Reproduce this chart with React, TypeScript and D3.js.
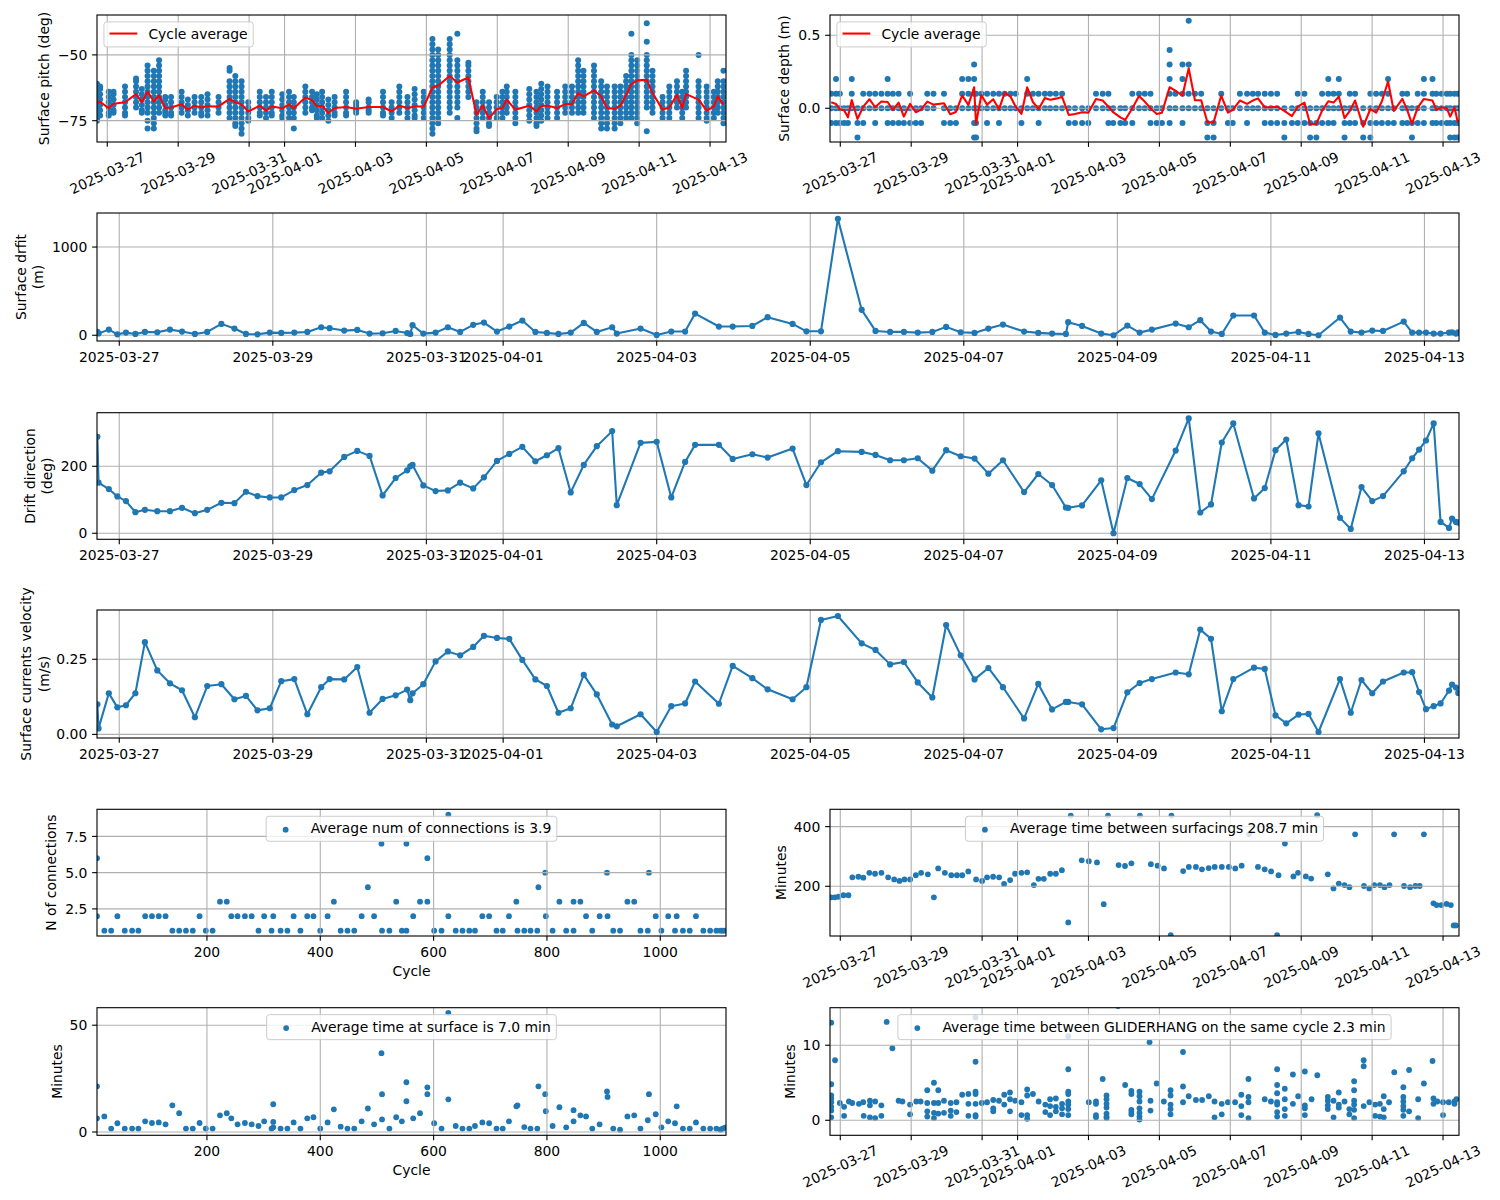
import React from "react";
import * as d3 from "d3";

// ---------- time helpers (days since 2025-03-27 00:00 UTC) ----------
const BASE_MS = Date.UTC(2025, 2, 27);
const toDate = (t: number) => new Date(BASE_MS + t * 86400000);
const TIME_DOMAIN = [-0.29, 17.45];
const DATE_TICKS = ["2025-03-27", "2025-03-29", "2025-03-31", "2025-04-01", "2025-04-03", "2025-04-05", "2025-04-07", "2025-04-09", "2025-04-11", "2025-04-13"];
const CYCLE_DOMAIN = [6, 1116];
const CYCLE_TICKS = [200, 400, 600, 800, 1000];

// ---------- surfacing-level series (drift / direction / velocity) ----------
const surfT = [-0.285, -0.27, -0.136, -0.025, 0.087, 0.21, 0.334, 0.495, 0.66, 0.817,
  0.985, 1.146, 1.33, 1.5, 1.65, 1.8, 1.96, 2.11, 2.28, 2.45,
  2.63, 2.74, 2.93, 3.1, 3.26, 3.43, 3.6, 3.75, 3.79, 3.82,
  3.96, 4.12, 4.28, 4.44, 4.61, 4.75, 4.92, 5.08, 5.25, 5.42,
  5.57, 5.72, 5.88, 6.05, 6.22, 6.42, 6.48, 6.79, 7.0, 7.19,
  7.37, 7.5, 7.81, 7.99, 8.246, 8.445, 8.77, 8.95, 9.14, 9.36,
  9.67, 9.85, 10.04, 10.22, 10.4, 10.59, 10.77, 10.96, 11.14, 11.32,
  11.51, 11.785, 11.97, 12.15, 12.33, 12.36, 12.54, 12.79, 12.95, 13.13,
  13.29, 13.45, 13.76, 13.93, 14.08, 14.22, 14.36, 14.51, 14.78, 14.92,
  15.06, 15.2, 15.36, 15.49, 15.62, 15.9, 16.04, 16.18, 16.32, 16.46,
  16.73, 16.84, 16.93, 17.02, 17.12, 17.21, 17.32, 17.36, 17.41, 17.44];
const driftM = [40, 20, 64, 11, 30, 15, 38, 34, 64, 42,
  15, 38, 129, 76, 15, 11, 30, 27, 30, 38,
  91, 80, 53, 61, 19, 23, 49, 25, 15, 114,
  19, 30, 91, 38, 118, 144, 42, 99, 167, 38,
  27, 15, 30, 140, 38, 91, 19, 76, 4, 42,
  42, 246, 99, 99, 106, 205, 129, 45, 45, 1320,
  288, 49, 38, 38, 30, 38, 95, 34, 27, 76,
  121, 42, 27, 19, 15, 148, 106, 19, 0, 110,
  30, 64, 133, 91, 171, 42, 15, 224, 224, 30,
  4, 19, 38, 15, 0, 201, 42, 30, 53, 49,
  155, 30, 30, 30, 19, 19, 30, 34, 19, 34];
const dirDeg = [288, 151, 132, 110, 96, 63, 70, 66, 66, 76,
  60, 70, 91, 90, 124, 111, 107, 107, 129, 144,
  181, 185, 228, 246, 231, 113, 165, 188, 200, 204,
  143, 126, 128, 151, 134, 167, 216, 237, 258, 215,
  233, 254, 122, 204, 260, 305, 84, 270, 273, 107,
  213, 264, 264, 222, 236, 226, 253, 144, 212, 245,
  243, 234, 218, 218, 224, 187, 248, 230, 223, 178,
  218, 123, 177, 144, 77, 76, 83, 158, 0, 165,
  147, 102, 247, 343, 62, 86, 271, 328, 104, 135,
  248, 280, 84, 80, 298, 46, 13, 138, 96, 111,
  185, 224, 250, 277, 328, 34, 16, 44, 34, 32];
const velMS = [0.1, 0.02, 0.137, 0.09, 0.097, 0.137, 0.307, 0.213, 0.17, 0.147,
  0.057, 0.161, 0.167, 0.117, 0.128, 0.08, 0.087, 0.177, 0.184, 0.067,
  0.157, 0.184, 0.183, 0.224, 0.072, 0.118, 0.13, 0.149, 0.114, 0.137,
  0.167, 0.243, 0.276, 0.263, 0.291, 0.328, 0.321, 0.318, 0.248, 0.183,
  0.161, 0.072, 0.087, 0.198, 0.133, 0.033, 0.027, 0.067, 0.008, 0.094,
  0.103, 0.176, 0.102, 0.228, 0.187, 0.15, 0.117, 0.157, 0.381, 0.394,
  0.303, 0.281, 0.233, 0.241, 0.173, 0.123, 0.364, 0.263, 0.183, 0.221,
  0.157, 0.053, 0.168, 0.083, 0.108, 0.108, 0.1, 0.017, 0.021, 0.14,
  0.171, 0.184, 0.206, 0.2, 0.349, 0.318, 0.077, 0.184, 0.222, 0.218,
  0.063, 0.037, 0.066, 0.068, 0.008, 0.184, 0.072, 0.181, 0.137, 0.176,
  0.206, 0.207, 0.141, 0.084, 0.094, 0.103, 0.146, 0.166, 0.156, 0.138];

// ---------- surface pitch: per-cycle readings + cycle average ----------
const pitchT = [-0.29, -0.203, 0.041, 0.176, 0.5, 0.811, 0.974, 1.136, 1.312, 1.461,
  1.636, 1.799, 2.096, 2.272, 2.461, 2.651, 2.827, 3.138, 3.449, 3.611,
  3.787, 3.976, 4.301, 4.477, 4.639, 4.936, 5.126, 5.261, 5.586, 5.775,
  5.91, 6.059, 6.235, 6.411, 6.735, 7.019, 7.371, 7.777, 8.02, 8.237,
  8.466, 8.669, 8.926, 9.17, 9.332, 9.657, 9.873, 10.184, 10.414, 10.59,
  10.766, 10.982, 11.144, 11.266, 11.509, 11.902, 12.105, 12.24, 12.416, 12.686,
  12.916, 13.105, 13.281, 13.43, 13.727, 13.93, 14.093, 14.309, 14.471, 14.634,
  14.782, 14.945, 15.215, 15.377, 15.661, 15.851, 16.067, 16.216, 16.324, 16.676,
  16.905, 17.108, 17.217, 17.379];
const pitchAvg = [-68.3, -67.8, -70.2, -68.6, -68.0, -64.9, -68.0, -63.9, -67.7, -65.4,
  -70.2, -70.0, -68.8, -70.8, -69.3, -70.0, -69.5, -69.6, -66.7, -68.0,
  -68.8, -71.5, -69.3, -71.2, -69.6, -70.3, -68.8, -70.3, -66.2, -67.2,
  -69.6, -69.3, -72.1, -70.2, -69.8, -70.5, -69.8, -69.8, -71.5, -69.3,
  -70.2, -69.6, -69.6, -62.4, -61.7, -58.0, -60.5, -58.6, -72.7, -69.3,
  -74.1, -70.6, -70.2, -67.0, -70.8, -69.3, -71.5, -69.3, -69.3, -70.2,
  -68.7, -68.7, -64.5, -65.8, -63.5, -65.8, -70.2, -70.5, -69.3, -65.2,
  -61.1, -59.7, -59.5, -64.5, -70.8, -70.0, -65.2, -70.2, -64.9, -67.0,
  -71.2, -69.6, -65.8, -68.9];
const pitchReadings = [
  [-61, -62, -63, -64, -66, -68, -70, -72, -74, -75],
  [-62, -63, -65, -67, -69, -71, -73],
  [-64, -66, -68, -70, -72, -73],
  [-64, -65, -67, -69, -71, -72],
  [-62, -64, -66, -68, -70, -72, -73],
  [-59, -60, -62, -64, -66, -68, -70],
  [-63, -65, -67, -69, -71, -72],
  [-54, -56, -58, -60, -62, -64, -66, -68, -70, -72, -75, -78],
  [-56, -58, -60, -62, -64, -66, -68, -70, -72, -74, -76, -78],
  [-52, -54, -56, -58, -60, -62, -64, -66, -68, -70, -72],
  [-66, -67, -69, -71, -72, -73],
  [-66, -68, -70, -72, -73],
  [-64, -66, -68, -70, -72],
  [-67, -69, -71, -73],
  [-66, -68, -70, -72],
  [-66, -68, -70, -72, -73],
  [-65, -67, -69, -71, -73],
  [-66, -68, -70, -72],
  [-55, -56, -60, -62, -64, -66, -68, -70, -72, -74],
  [-58, -60, -62, -64, -66, -68, -70, -72, -74, -76, -77],
  [-60, -62, -64, -66, -68, -70, -72, -74, -76, -78, -80],
  [-68, -70, -72, -74, -75],
  [-64, -66, -68, -70, -72, -73],
  [-66, -68, -70, -72, -74],
  [-64, -66, -68, -70, -72, -73],
  [-65, -67, -69, -71, -73, -74],
  [-64, -66, -68, -70, -72, -74],
  [-66, -68, -70, -72, -74, -78],
  [-62, -64, -66, -68, -70, -72],
  [-64, -66, -68, -70, -71],
  [-65, -67, -69, -71, -73, -74],
  [-64, -66, -68, -70, -72, -74],
  [-67, -69, -71, -73, -75],
  [-66, -68, -70, -72, -73],
  [-64, -66, -68, -70, -72, -73],
  [-68, -69, -70, -71, -72],
  [-67, -68, -70, -71, -72],
  [-64, -66, -68, -70, -72, -73],
  [-68, -70, -72, -74],
  [-62, -64, -66, -68, -70, -72],
  [-66, -68, -70, -72, -74],
  [-63, -65, -67, -69, -71, -73, -74],
  [-64, -66, -68, -70, -72, -74],
  [-44, -46, -48, -50, -52, -54, -56, -58, -60, -62, -64, -66, -68, -70, -72, -74, -76, -78, -80],
  [-48, -50, -52, -54, -56, -58, -60, -62, -64, -66, -68, -70, -72, -74, -76],
  [-44, -46, -48, -50, -52, -54, -56, -58, -60, -62, -64, -66, -68, -70, -72],
  [-42, -52, -54, -56, -58, -60, -62, -64, -66, -68, -70, -74],
  [-53, -54, -56, -58, -60, -62, -64, -66],
  [-68, -70, -72, -74, -76, -78, -79],
  [-64, -66, -68, -70, -72, -74],
  [-68, -70, -72, -74, -76, -77],
  [-66, -68, -70, -72, -74],
  [-64, -66, -68, -70, -72, -74],
  [-62, -64, -66, -68, -70, -72],
  [-64, -66, -68, -70, -72, -74, -76],
  [-63, -65, -67, -69, -71, -73, -75],
  [-64, -66, -68, -70, -72, -74, -76, -77],
  [-61, -63, -65, -67, -69, -71, -73, -75],
  [-62, -64, -66, -68, -70, -72, -74],
  [-64, -66, -68, -70, -72, -74],
  [-62, -64, -66, -68, -70, -72],
  [-62, -64, -66, -68, -70, -72],
  [-52, -54, -56, -58, -60, -62, -64, -66, -68, -70, -72],
  [-56, -58, -60, -62, -64, -66, -68, -70, -72],
  [-54, -56, -58, -60, -62, -64, -66, -68, -70, -72, -74],
  [-60, -62, -64, -66, -68, -70, -72, -74, -76, -78],
  [-62, -64, -66, -68, -70, -72, -74, -76, -78],
  [-62, -64, -66, -68, -70, -72, -74, -76, -78],
  [-62, -64, -66, -68, -70, -72, -74, -76],
  [-58, -60, -62, -64, -66, -68, -70, -72, -74],
  [-42, -50, -52, -54, -56, -58, -60, -62, -64, -66, -68, -70, -72, -74],
  [-52, -54, -56, -58, -60, -62, -64, -66, -68, -70, -72, -74, -76],
  [-38, -45, -50, -52, -54, -56, -58, -60, -62, -64, -66, -68, -70, -79],
  [-56, -58, -60, -62, -64, -66, -68, -70, -72],
  [-66, -68, -70, -72, -74],
  [-62, -64, -66, -68, -70, -72, -74],
  [-60, -62, -64, -66, -68, -70],
  [-64, -66, -68, -70, -72, -74],
  [-56, -58, -60, -62, -64, -66, -68, -70],
  [-50, -60, -62, -64, -66, -68, -70, -72, -74],
  [-62, -64, -66, -68, -70, -72, -74, -75],
  [-64, -66, -68, -70, -72, -74],
  [-60, -62, -64, -66, -68, -70, -72],
  [-56, -60, -62, -64, -66, -68, -70, -72, -74, -76]];

// ---------- surface depth: per-cycle readings + cycle average ----------
const depthT = [-0.256, -0.121, -0.013, 0.108, 0.216, 0.324, 0.485, 0.647, 0.822, 0.984,
  1.159, 1.335, 1.483, 1.645, 1.793, 1.968, 2.13, 2.278, 2.453, 2.629,
  2.925, 3.101, 3.262, 3.438, 3.613, 3.775, 3.829, 3.977, 4.139, 4.314,
  4.476, 4.637, 4.799, 4.947, 5.109, 5.271, 5.433, 5.594, 5.77, 5.918,
  6.08, 6.255, 6.444, 6.619, 6.821, 6.996, 7.212, 7.401, 7.563, 7.697,
  7.9, 8.034, 8.237, 8.425, 8.587, 8.749, 8.924, 9.072, 9.288, 9.45,
  9.652, 9.827, 10.003, 10.178, 10.353, 10.528, 10.744, 10.933, 11.068, 11.27,
  11.472, 11.634, 11.782, 11.971, 12.146, 12.321, 12.524, 12.739, 12.901, 13.09,
  13.252, 13.427, 13.589, 13.764, 13.912, 14.06, 14.222, 14.37, 14.519, 14.748,
  14.95, 15.112, 15.274, 15.449, 15.611, 15.853, 15.988, 16.123, 16.285, 16.46,
  16.703, 16.811, 16.959, 17.107, 17.201, 17.323, 17.417];
const depthAvg = [0.041, 0.03, -0.007, -0.014, -0.062, 0.057, -0.073, 0.011, 0.062, 0.007,
  0.046, 0.043, -0.011, 0.039, -0.057, 0.03, -0.027, -0.009, 0.046, 0.025,
  0.034, -0.041, -0.025, 0.087, 0.023, 0.144, -0.107, 0.091, 0.025, 0.062,
  -0.007, 0.107, 0.08, 0.011, -0.039, 0.144, 0.043, -0.005, 0.071, 0.059,
  0.066, 0.078, -0.046, -0.039, -0.027, -0.03, 0.064, 0.053, 0.011, -0.027,
  -0.062, -0.08, 0, 0.084, 0.046, 0, -0.039, -0.03, 0.144, 0.121,
  0.087, 0.274, 0.055, 0.055, -0.094, -0.098, 0.087, -0.03, -0.011, 0.053,
  0.03, 0.053, 0.068, 0.007, 0.007, 0.011, -0.018, -0.053, 0.011, 0.039,
  -0.11, -0.107, -0.016, 0.048, 0.039, 0.08, -0.068, -0.018, 0.053, -0.126,
  -0.005, -0.03, 0.046, 0.183, -0.018, 0.064, -0.011, -0.107, 0.005, 0.064,
  0.053, -0.011, 0.007, 0, -0.057, 0.007, -0.098];
const depthReadings = [
  [0.1, 0, -0.1], [0.2, 0.1, 0, -0.1], [0.1, 0, -0.1], [0, -0.1], [0, -0.1],
  [0.2, 0.1, 0], [0, -0.1, -0.2], [0.1, 0, -0.1], [0.1, 0], [0.1, 0, -0.1],
  [0.1, 0], [0.2, 0.1, 0, -0.1], [0.1, 0, -0.1], [0.1, 0, -0.1], [0, -0.1],
  [0.1, 0, -0.1], [0, -0.1], [0, -0.1], [0.1, 0], [0.1, 0],
  [0.1, 0, -0.1], [0, -0.1], [0, -0.1], [0.2, 0.1, 0], [0.2, 0.1, 0],
  [0.3, 0.2, 0.1, 0, -0.1, -0.2], [0.1, 0, -0.1, -0.2], [0.1, 0], [0.1, 0, -0.1], [0.1, 0],
  [0.1, 0, -0.1], [0.1, 0], [0.1, 0], [0.1, 0], [0, -0.1],
  [0.2, 0.1, 0], [0.1, 0], [0.1, 0, -0.1], [0.1, 0], [0.1, 0],
  [0.1, 0], [0.1, 0], [0, -0.1], [0, -0.1], [0, -0.1],
  [0, -0.1], [0.1, 0], [0.1, 0], [0.1, 0, -0.1], [0, -0.1],
  [0, -0.1], [0, -0.1], [0.1, 0, -0.1], [0.1, 0], [0.1, 0],
  [0.1, 0, -0.1], [0, -0.1], [0, -0.1], [0.4, 0.3, 0.2, 0.1, 0, -0.1], [0.1, 0],
  [0.3, 0.2, 0.1, 0, -0.1], [0.6, 0.3, 0.1, 0], [0.1, 0], [0.1, 0], [0, -0.1, -0.2],
  [0, -0.1, -0.2], [0.1, 0], [0, -0.1], [0, -0.1], [0.1, 0],
  [0.1, 0, -0.1], [0.1, 0], [0.1, 0], [0.1, 0, -0.1], [0.1, 0, -0.1],
  [0.1, 0, -0.1], [0, -0.1, -0.2], [0, -0.1], [0.1, 0, -0.1], [0.1, 0, -0.1],
  [0, -0.1, -0.2], [0, -0.1, -0.2], [0.1, 0, -0.1], [0.2, 0.1, 0, -0.1], [0.1, 0, -0.1],
  [0.2, 0.1, 0], [0, -0.1, -0.2], [0.1, 0, -0.1], [0.1, 0, -0.1], [0, -0.1, -0.2],
  [0.1, 0, -0.1, -0.2], [0.1, 0, -0.1], [0.1, 0, -0.1], [0.2, 0.1, 0, -0.1], [0, -0.1],
  [0.1, 0, -0.1], [0.1, 0, -0.1], [0, -0.1, -0.2], [0.1, 0, -0.1], [0.2, 0.1, 0, -0.1],
  [0.2, 0.1, 0, -0.1], [0.1, 0, -0.1], [0.1, 0, -0.1], [0.1, 0, -0.1], [0.1, 0, -0.1, -0.2],
  [0.1, 0, -0.1, -0.2], [0.1, 0, -0.1, -0.2]];

// ---------- per-cycle counts (x = cycle number) ----------
const connPts: [number, number][] = [[6, 6], [6, 2], [19, 1], [31, 1], [42, 2], [55, 1], [68, 1], [79, 1], [91, 2], [103, 2],
  [115, 2], [127, 2], [139, 1], [151, 1], [163, 1], [175, 1], [187, 2], [198, 1], [210, 1], [223, 3],
  [235, 3], [243, 2], [254, 2], [267, 2], [279, 2], [291, 1], [301, 2], [314, 1], [317, 2], [330, 1],
  [342, 1], [353, 2], [365, 1], [377, 2], [388, 2], [400, 1], [413, 2], [424, 3], [436, 1], [448, 1],
  [460, 1], [473, 2], [484, 4], [495, 2], [508, 7], [509, 1], [522, 1], [534, 3], [544, 1], [552, 1],
  [552, 7], [564, 2], [576, 3], [589, 6], [589, 3], [601, 1], [614, 1], [626, 9], [626, 2], [639, 1],
  [651, 1], [663, 1], [673, 1], [686, 2], [698, 2], [711, 1], [722, 1], [733, 2], [746, 3], [748, 1],
  [760, 1], [771, 1], [783, 1], [785, 4], [797, 5], [798, 2], [810, 1], [822, 3], [834, 1], [847, 3],
  [847, 1], [859, 3], [869, 2], [880, 1], [893, 2], [906, 5], [907, 2], [917, 1], [929, 1], [942, 3],
  [954, 3], [965, 1], [978, 1], [980, 5], [992, 2], [1002, 1], [1014, 2], [1026, 1], [1029, 2], [1040, 1],
  [1052, 1], [1063, 2], [1076, 1], [1088, 1], [1099, 1], [1106, 1], [1110, 1], [1114, 1]];
const atSurfPts: [number, number][] = [[6, 21.4], [6, 6.4], [19, 7.3], [31, 1.6], [42, 4.1], [55, 1.6], [68, 1.6], [79, 1.6], [91, 5], [103, 4.2],
  [115, 4.5], [127, 3.6], [139, 12.5], [151, 8.8], [163, 1.6], [175, 1.6], [187, 4.2], [198, 1.6], [210, 1.6], [223, 7.8],
  [235, 8.8], [243, 6.4], [254, 3.6], [267, 4.2], [279, 3.6], [291, 2.8], [301, 5], [314, 1.6], [317, 4.7], [317, 13],
  [317, 2.2], [330, 1.6], [342, 1.6], [353, 4.5], [365, 1.6], [377, 6.4], [388, 6.9], [400, 1.6], [413, 4.5], [424, 10.6],
  [436, 2.5], [448, 1.6], [460, 1.6], [473, 5], [484, 11], [495, 3.6], [508, 36.9], [509, 17.7], [509, 5.9], [522, 1.6],
  [534, 6.9], [544, 5], [552, 23.3], [552, 14.4], [564, 6.4], [576, 8.8], [589, 20.9], [589, 17.7], [601, 4.1], [614, 1.6],
  [626, 55.8], [626, 15.3], [639, 2.8], [651, 1.6], [663, 1.6], [673, 2.8], [686, 4.5], [698, 4.1], [711, 1.6], [722, 1.6],
  [733, 5], [746, 12], [748, 12.5], [760, 2.3], [771, 1.6], [783, 1.6], [785, 21.4], [797, 17.7], [798, 9.7], [810, 2.8],
  [822, 11.6], [834, 2.2], [847, 10.2], [847, 5], [859, 7.8], [869, 7.3], [880, 1.6], [893, 3.6], [906, 19], [907, 16.4],
  [917, 1.6], [929, 1.1], [942, 7.3], [954, 7.8], [965, 1.6], [978, 5.5], [980, 17.7], [992, 8.3], [1002, 2.2], [1014, 5],
  [1026, 4.1], [1029, 12], [1040, 1.6], [1052, 1.6], [1063, 4.5], [1076, 1.6], [1088, 1.6], [1099, 1.6], [1106, 1.1], [1110, 1.6],
  [1114, 2]];

// ---------- time between surfacings (min) ----------
const gapPts: [number, number][] = [[-0.256, 163], [-0.15, 163], [-0.05, 165], [0.09, 170], [0.23, 170], [0.34, 230], [0.51, 232], [0.65, 229], [0.82, 245], [0.98, 242],
  [1.16, 245], [1.35, 230], [1.52, 223], [1.67, 218], [1.81, 223], [1.97, 223], [2.13, 237], [2.28, 245], [2.47, 240], [2.64, 163],
  [2.76, 260], [2.95, 245], [3.13, 237], [3.29, 237], [3.44, 237], [3.61, 250], [3.83, 223], [4.0, 218], [4.14, 230], [4.31, 232],
  [4.48, 230], [4.62, 208], [4.79, 221], [4.93, 242], [5.11, 245], [5.27, 247], [5.46, 204], [5.59, 225], [5.74, 225], [5.92, 242],
  [6.08, 242], [6.25, 254], [6.43, 79], [6.5, 437], [6.81, 287], [7.01, 284], [7.24, 280], [7.43, 140], [7.55, 437], [7.85, 271],
  [8.03, 268], [8.21, 277], [8.45, 437], [8.76, 274], [8.95, 269], [9.13, 260], [9.32, 36], [9.34, 437], [9.67, 251], [9.83, 265],
  [10.03, 265], [10.2, 257], [10.39, 261], [10.56, 265], [10.76, 265], [10.96, 265], [11.14, 260], [11.32, 269], [11.53, 374], [11.78, 265],
  [11.97, 257], [12.15, 250], [12.32, 36], [12.36, 237], [12.54, 343], [12.78, 233], [12.91, 245], [13.13, 233], [13.28, 226], [13.45, 438],
  [13.75, 240], [13.91, 193], [14.06, 209], [14.22, 204], [14.36, 197], [14.52, 374], [14.77, 201], [14.92, 193], [15.06, 204], [15.22, 204],
  [15.35, 197], [15.49, 204], [15.62, 374], [15.9, 201], [16.07, 197], [16.22, 201], [16.34, 201], [16.46, 374], [16.73, 143], [16.82, 137],
  [16.95, 137], [17.1, 141], [17.22, 137], [17.3, 69], [17.36, 69]];

// ---------- time between GLIDERHANG on the same cycle (min) ----------
const hangCols: [number, number[]][] = [
  [-0.256, [15.5, 13.0, 4.8, 3.3, 2.9, 2.4, 1.8, 1.3, 0.4]], [-0.148, [8.0]], [-0.013, [2.3]], [0.108, [1.8, 0.6]], [0.243, [2.5]],
  [0.337, [2.3]], [0.526, [2.2]], [0.647, [2.4]], [0.66, [0.6]], [0.836, [2.6, 2.0, 0.4]],
  [0.984, [2.5, 0.3]], [1.159, [2.0, 0.6]], [1.308, [13.1]], [1.469, [9.6]], [1.645, [2.6]],
  [1.752, [2.5]], [1.968, [2.1, 0.8]], [2.143, [2.5]], [2.265, [2.5]], [2.453, [4.0, 2.3, 1.2, 0.5]],
  [2.642, [5.0, 2.3, 1.0, 0.3]], [2.764, [4.0, 2.3, 0.9]], [2.925, [2.6, 1.0]], [3.114, [2.3, 1.3, 0.6]], [3.276, [2.4, 1.1]],
  [3.438, [3.4]], [3.613, [3.5, 2.2, 0.6]], [3.815, [15.5, 13.7, 7.8, 3.8, 3.5, 2.2, 0.7, 0.5]], [3.99, [2.3]], [4.139, [2.4]],
  [4.314, [2.7, 1.6, 1.2]], [4.476, [2.6]], [4.624, [3.4, 2.1]], [4.786, [3.7, 2.8, 1.2]], [4.934, [2.6]],
  [5.109, [2.4, 0.7]], [5.271, [4.1, 3.3, 0.7, 0.2]], [5.433, [3.5]], [5.594, [2.5]], [5.783, [2.1, 1.1]],
  [5.918, [2.8, 1.9, 0.7]], [6.08, [2.9, 1.8, 1.2]], [6.255, [2.2, 1.6, 0.8]], [6.43, [11.2, 6.8, 3.8, 3.5, 2.5, 2.1, 1.5, 0.7]], [7.01, [2.4]],
  [7.212, [2.5, 2.2, 0.7, 0.4]], [7.401, [5.5]], [7.509, [3.3, 2.8, 2.2, 1.7, 0.9, 0.5, 0.3]], [7.832, [15.2]], [8.034, [4.7]],
  [8.21, [3.9, 3.5, 1.4, 1.1, 0.8]], [8.439, [3.8, 3.2, 2.5, 1.6, 1.0, 0.5, 0.1]], [8.722, [10.4]], [8.749, [2.6, 1.3]], [8.924, [4.9]],
  [9.126, [2.5]], [9.315, [4.0, 3.3, 2.1, 1.5, 0.8]], [9.666, [9.1, 4.5, 2.4]], [9.827, [3.2]], [10.03, [2.7]],
  [10.205, [2.7]], [10.394, [3.2]], [10.555, [2.5, 0.4]], [10.758, [2.2, 0.8]], [10.933, [2.4]],
  [11.135, [2.4]], [11.31, [3.4, 1.9, 0.7]], [11.512, [5.5, 3.1, 2.4, 0.3]], [11.971, [2.8]], [12.146, [2.5]],
  [12.321, [6.8, 4.7, 3.6, 2.4, 2.1, 1.1, 0.5]], [12.537, [4.2, 2.8, 1.5, 0.6]], [12.766, [6.1, 2.2]], [12.914, [3.2]], [13.103, [6.5, 2.0, 1.6, 0.7]],
  [13.292, [2.8]], [13.454, [6.0]], [13.75, [3.1, 2.6, 2.0, 1.5]], [13.912, [2.6, 0.4]], [14.06, [3.7, 2.1, 1.7]],
  [14.222, [2.5]], [14.357, [1.5, 0.8]], [14.492, [5.2, 4.0, 2.6, 2.1, 1.4, 0.3]], [14.762, [8.0, 7.2, 1.9]], [14.923, [2.4]],
  [15.085, [2.1, 0.6]], [15.22, [2.2, 0.5]], [15.328, [3.2, 1.5, 0.4]], [15.476, [2.4]], [15.624, [6.4]],
  [15.88, [4.4, 3.1, 2.5, 1.9, 1.4, 0.6]], [16.042, [6.7, 1.2]], [16.298, [2.8, 0.3]], [16.46, [4.9]], [16.703, [7.9]],
  [16.73, [2.9, 2.2]], [16.838, [2.5]], [17.0, [2.4, 0.7]], [17.161, [2.4]], [17.323, [2.5, 2.2]],
  [17.377, [2.8]]];

// ---------- styling ----------
const BLUE = "#1f77b4";
const GRID = "#b0b0b0";
const FS = 13.9;
const FONT = "'DejaVu Sans', sans-serif";
const TICKLEN = 4.86;
const PAD = 4.86;
const ROT_DEG = 25;

type Rect = { x0: number; x1: number; y0: number; y1: number };

let measureCtx: CanvasRenderingContext2D | null = null;
function textW(s: string): number {
  if (!measureCtx) {
    const c = document.createElement("canvas");
    measureCtx = c.getContext("2d");
  }
  if (!measureCtx) return s.length * FS * 0.6;
  measureCtx.font = `${FS}px "DejaVu Sans"`;
  return measureCtx.measureText(s).width;
}

type AxesProps = {
  id: string;
  r: Rect;
  xs: (v: any) => number;
  ys: (v: number) => number;
  xTicks: any[];
  xLabels: string[];
  rot: boolean;
  yTicks: number[];
  yLabels: string[];
  ylab: string[];
  ylabX: number[];
  xlab?: string;
  under?: React.ReactNode;
  over?: React.ReactNode;
  legend?: { label: string; kind: "line" | "dot"; loc: "ul" | "uc" };
};

function Axes(p: AxesProps) {
  const { r } = p;
  const clipId = `clip-${p.id}`;
  const cy = (r.y0 + r.y1) / 2;
  const ang = (ROT_DEG * Math.PI) / 180;

  const grid = (
    <g stroke={GRID} strokeWidth={1.11}>
      {p.xTicks.map((v, i) => {
        const x = p.xs(v);
        return <line key={"gx" + i} x1={x} x2={x} y1={r.y0} y2={r.y1} />;
      })}
      {p.yTicks.map((v, i) => {
        const y = p.ys(v);
        return <line key={"gy" + i} x1={r.x0} x2={r.x1} y1={y} y2={y} />;
      })}
    </g>
  );

  const xtick = p.xTicks.map((v, i) => {
    const x = p.xs(v);
    const lab = p.xLabels[i];
    let t: React.ReactNode;
    if (p.rot) {
      const w = textW(lab);
      const h = 11.5;
      const bh = w * Math.sin(ang) + h * Math.cos(ang);
      const c = r.y1 + TICKLEN + PAD - 1 + bh / 2;
      t = (
        <text x={x} y={c} textAnchor="middle" dominantBaseline="central" transform={`rotate(-${ROT_DEG} ${x} ${c})`}>
          {lab}
        </text>
      );
    } else {
      t = (
        <text x={x} y={r.y1 + 20.8} textAnchor="middle">
          {lab}
        </text>
      );
    }
    return (
      <g key={"xt" + i}>
        <line x1={x} x2={x} y1={r.y1} y2={r.y1 + TICKLEN} stroke="#000" strokeWidth={1.11} />
        {t}
      </g>
    );
  });
  const ytick = p.yTicks.map((v, i) => {
    const y = p.ys(v);
    return (
      <g key={"yt" + i}>
        <line x1={r.x0 - TICKLEN} x2={r.x0} y1={y} y2={y} stroke="#000" strokeWidth={1.11} />
        <text x={r.x0 - TICKLEN - PAD} y={y + 5.1} textAnchor="end">
          {p.yLabels[i]}
        </text>
      </g>
    );
  });

  let legend: React.ReactNode = null;
  if (p.legend) {
    const tw = textW(p.legend.label);
    const bp = 0.4 * FS, hl = 2.0 * FS, htp = 0.8 * FS;
    const lw = 2 * bp + hl + htp + tw;
    const lh = 25;
    const lx = p.legend.loc === "ul" ? r.x0 + 6.95 : (r.x0 + r.x1) / 2 - lw / 2;
    const ly = r.y0 + 6.95;
    legend = (
      <g>
        <rect x={lx} y={ly} width={lw} height={lh} rx={2.8} fill="#fff" fillOpacity={0.8} stroke="#cccccc" strokeWidth={1} />
        {p.legend.kind === "line" ? (
          <line x1={lx + bp} x2={lx + bp + hl} y1={ly + 11.6} y2={ly + 11.6} stroke="#ff0000" strokeWidth={2.08} />
        ) : (
          <circle cx={lx + bp + hl / 2} cy={ly + 13.4} r={2.9} fill={BLUE} />
        )}
        <text x={lx + bp + hl + htp} y={ly + 17.2}>
          {p.legend.label}
        </text>
      </g>
    );
  }

  return (
    <g>
      <defs>
        <clipPath id={clipId}>
          <rect x={r.x0} y={r.y0} width={r.x1 - r.x0} height={r.y1 - r.y0} />
        </clipPath>
      </defs>
      <g clipPath={`url(#${clipId})`}>{p.under}</g>
      {grid}
      <g clipPath={`url(#${clipId})`}>{p.over}</g>
      <rect x={r.x0} y={r.y0} width={r.x1 - r.x0} height={r.y1 - r.y0} fill="none" stroke="#000" strokeWidth={1.11} />
      {xtick}
      {ytick}
      {p.ylab.map((s, i) => (
        <text key={"yl" + i} transform={`translate(${p.ylabX[i]},${cy}) rotate(-90)`} textAnchor="middle" dominantBaseline="central">
          {s}
        </text>
      ))}
      {p.xlab ? (
        <text x={(r.x0 + r.x1) / 2} y={r.y1 + 39.5} textAnchor="middle">
          {p.xlab}
        </text>
      ) : null}
      {legend}
    </g>
  );
}

const R = {
  pitch: { x0: 97, x1: 726, y0: 15, y1: 142 },
  depth: { x0: 830, x1: 1459, y0: 15, y1: 142 },
  drift: { x0: 97, x1: 1459, y0: 213, y1: 341 },
  dir: { x0: 97, x1: 1459, y0: 412.7, y1: 539.3 },
  vel: { x0: 97, x1: 1459, y0: 610, y1: 738 },
  conn: { x0: 97, x1: 726, y0: 809.3, y1: 936 },
  gap: { x0: 830, x1: 1459, y0: 809.3, y1: 936 },
  surf: { x0: 97, x1: 726, y0: 1007.7, y1: 1135.3 },
  hang: { x0: 830, x1: 1459, y0: 1007.7, y1: 1135.3 },
};

function timeScale(r: Rect) {
  return d3.scaleUtc().domain([toDate(TIME_DOMAIN[0]), toDate(TIME_DOMAIN[1])]).range([r.x0, r.x1]);
}

export default function App() {
  const dateTickVals = DATE_TICKS.map((s) => new Date(s + "T00:00:00Z"));
  const fmtMinus = (s: string) => s.replace("-", "\u2212");

  const xP = timeScale(R.pitch);
  const yP = d3.scaleLinear().domain([-83.1, -34.85]).range([R.pitch.y1, R.pitch.y0]);
  const pitchDots: React.ReactNode[] = [];
  pitchT.forEach((t, i) => {
    (pitchReadings[i] || []).forEach((v, j) => {
      pitchDots.push(<circle key={`p${i}-${j}`} cx={xP(toDate(t))} cy={yP(v)} r={3.0} fill={BLUE} />);
    });
  });
  const pitchLine = d3.line<number>().x((t) => xP(toDate(t))).y((_, i) => yP(pitchAvg[i]))(pitchT) || "";

  const xD = timeScale(R.depth);
  const yD = d3.scaleLinear().domain([-0.231, 0.639]).range([R.depth.y1, R.depth.y0]);
  const depthDots: React.ReactNode[] = [];
  depthT.forEach((t, i) => {
    (depthReadings[i] || []).forEach((v, j) => {
      depthDots.push(<circle key={`d${i}-${j}`} cx={xD(toDate(t))} cy={yD(v)} r={3.0} fill={BLUE} />);
    });
  });
  const depthLine = d3.line<number>().x((t) => xD(toDate(t))).y((_, i) => yD(depthAvg[i]))(depthT) || "";

  const xW = timeScale(R.drift);
  const yDrift = d3.scaleLinear().domain([-65, 1386]).range([R.drift.y1, R.drift.y0]);
  const yDir = d3.scaleLinear().domain([-18, 360]).range([R.dir.y1, R.dir.y0]);
  const yVel = d3.scaleLinear().domain([-0.012, 0.414]).range([R.vel.y1, R.vel.y0]);
  const seriesMarks = (vals: number[], ys: (v: number) => number, key: string) => {
    const path = d3.line<number>().x((t) => xW(toDate(t))).y((_, i) => ys(vals[i]))(surfT) || "";
    return (
      <g>
        <path d={path} fill="none" stroke={BLUE} strokeWidth={2.08} strokeLinejoin="round" />
        {surfT.map((t, i) => (
          <circle key={key + i} cx={xW(toDate(t))} cy={ys(vals[i])} r={3.1} fill={BLUE} />
        ))}
      </g>
    );
  };

  const xC1 = d3.scaleLinear().domain(CYCLE_DOMAIN).range([R.conn.x0, R.conn.x1]);
  const yConn = d3.scaleLinear().domain([0.63, 9.37]).range([R.conn.y1, R.conn.y0]);
  const xC2 = d3.scaleLinear().domain(CYCLE_DOMAIN).range([R.surf.x0, R.surf.x1]);
  const ySurf = d3.scaleLinear().domain([-1.55, 58.2]).range([R.surf.y1, R.surf.y0]);

  const xG = timeScale(R.gap);
  const yGap = d3.scaleLinear().domain([33.5, 458]).range([R.gap.y1, R.gap.y0]);
  const xH = timeScale(R.hang);
  const yHang = d3.scaleLinear().domain([-2, 15]).range([R.hang.y1, R.hang.y0]);

  return (
    <svg width={1500} height={1200} style={{ position: "absolute", left: 0, top: 0, background: "#fff" }} fontFamily={FONT} fontSize={FS} fill="#000">
      <rect x={0} y={0} width={1500} height={1200} fill="#fff" />

      <Axes id="pitch" r={R.pitch} xs={xP} ys={yP} xTicks={dateTickVals} xLabels={DATE_TICKS} rot
        yTicks={[-75, -50]} yLabels={["-75", "-50"].map(fmtMinus)} ylab={["Surface pitch (deg)"]} ylabX={[43.5]}
        under={<g>{pitchDots}</g>}
        over={<path d={pitchLine} fill="none" stroke="#ff0000" strokeWidth={2.08} strokeLinejoin="round" />}
        legend={{ label: "Cycle average", kind: "line", loc: "ul" }} />

      <Axes id="depth" r={R.depth} xs={xD} ys={yD} xTicks={dateTickVals} xLabels={DATE_TICKS} rot
        yTicks={[0, 0.5]} yLabels={["0.0", "0.5"]} ylab={["Surface depth (m)"]} ylabX={[783.5]}
        under={<g>{depthDots}</g>}
        over={<path d={depthLine} fill="none" stroke="#ff0000" strokeWidth={2.08} strokeLinejoin="round" />}
        legend={{ label: "Cycle average", kind: "line", loc: "ul" }} />

      <Axes id="drift" r={R.drift} xs={xW} ys={yDrift} xTicks={dateTickVals} xLabels={DATE_TICKS} rot={false}
        yTicks={[0, 1000]} yLabels={["0", "1000"]} ylab={["Surface drfit", "(m)"]} ylabX={[20.6, 38.4]}
        over={seriesMarks(driftM, yDrift, "dr")} />

      <Axes id="dir" r={R.dir} xs={xW} ys={yDir} xTicks={dateTickVals} xLabels={DATE_TICKS} rot={false}
        yTicks={[0, 200]} yLabels={["0", "200"]} ylab={["Drift direction", "(deg)"]} ylabX={[29.8, 47]}
        over={seriesMarks(dirDeg, yDir, "di")} />

      <Axes id="vel" r={R.vel} xs={xW} ys={yVel} xTicks={dateTickVals} xLabels={DATE_TICKS} rot={false}
        yTicks={[0, 0.25]} yLabels={["0.00", "0.25"]} ylab={["Surface currents velocity", "(m/s)"]} ylabX={[26, 43.5]}
        over={seriesMarks(velMS, yVel, "ve")} />

      <Axes id="conn" r={R.conn} xs={xC1} ys={yConn} xTicks={CYCLE_TICKS} xLabels={CYCLE_TICKS.map(String)} rot={false}
        yTicks={[2.5, 5.0, 7.5]} yLabels={["2.5", "5.0", "7.5"]} ylab={["N of connections"]} ylabX={[51]} xlab="Cycle"
        under={<g>{connPts.map((d, i) => <circle key={"c" + i} cx={xC1(d[0])} cy={yConn(d[1])} r={2.9} fill={BLUE} />)}</g>}
        legend={{ label: "Average num of connections is 3.9", kind: "dot", loc: "uc" }} />

      <Axes id="gap" r={R.gap} xs={xG} ys={yGap} xTicks={dateTickVals} xLabels={DATE_TICKS} rot
        yTicks={[200, 400]} yLabels={["200", "400"]} ylab={["Minutes"]} ylabX={[780.5]}
        under={<g>{gapPts.map((d, i) => <circle key={"g" + i} cx={xG(toDate(d[0]))} cy={yGap(d[1])} r={2.9} fill={BLUE} />)}</g>}
        legend={{ label: "Average time between surfacings 208.7 min", kind: "dot", loc: "uc" }} />

      <Axes id="surf" r={R.surf} xs={xC2} ys={ySurf} xTicks={CYCLE_TICKS} xLabels={CYCLE_TICKS.map(String)} rot={false}
        yTicks={[0, 50]} yLabels={["0", "50"]} ylab={["Minutes"]} ylabX={[56.5]} xlab="Cycle"
        under={<g>{atSurfPts.map((d, i) => <circle key={"s" + i} cx={xC2(d[0])} cy={ySurf(d[1])} r={2.9} fill={BLUE} />)}</g>}
        legend={{ label: "Average time at surface is 7.0 min", kind: "dot", loc: "uc" }} />

      <Axes id="hang" r={R.hang} xs={xH} ys={yHang} xTicks={dateTickVals} xLabels={DATE_TICKS} rot
        yTicks={[0, 10]} yLabels={["0", "10"]} ylab={["Minutes"]} ylabX={[789.6]}
        under={<g>{hangCols.map((c, i) => c[1].map((v, j) => <circle key={`h${i}-${j}`} cx={xH(toDate(c[0]))} cy={yHang(v)} r={2.9} fill={BLUE} />))}</g>}
        legend={{ label: "Average time between GLIDERHANG on the same cycle 2.3 min", kind: "dot", loc: "uc" }} />
    </svg>
  );
}
